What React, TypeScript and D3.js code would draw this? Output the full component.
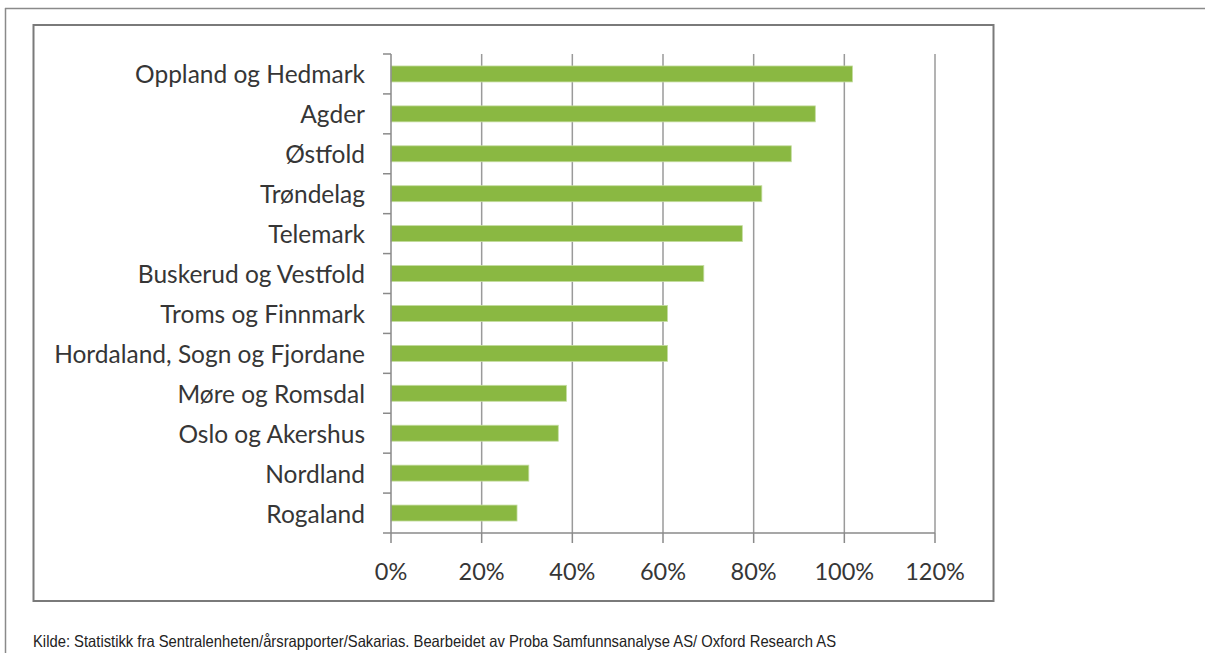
import React from "react";
import * as d3 from "d3";

const categories = [
  "Oppland og Hedmark",
  "Agder",
  "Østfold",
  "Trøndelag",
  "Telemark",
  "Buskerud og Vestfold",
  "Troms og Finnmark",
  "Hordaland, Sogn og Fjordane",
  "Møre og Romsdal",
  "Oslo og Akershus",
  "Nordland",
  "Rogaland",
];
const values = [101.8, 93.6, 88.3, 81.8, 77.5, 69.0, 61.0, 61.0, 38.7, 36.9, 30.4, 27.8];
const ticks = [0, 20, 40, 60, 80, 100, 120];
const source =
  "Kilde: Statistikk fra Sentralenheten/årsrapporter/Sakarias. Bearbeidet av Proba Samfunnsanalyse AS/ Oxford Research AS";

export default function App() {
  const W = 1205;
  const H = 653;
  const x = d3.scaleLinear().domain([0, 120]).range([391, 935]);
  const y = d3
    .scaleBand<string>()
    .domain(categories)
    .range([54, 533])
    .paddingInner(0.6)
    .paddingOuter(0.3);
  const step = y.step();
  const top = 54;
  const bottom = 533;
  const textColor = "#363636";
  const labelFont = "Lato, 'Open Sans', sans-serif";

  return (
    <svg
      width={W}
      height={H}
      style={{ position: "absolute", left: 0, top: 0, background: "#fff" }}
    >
      {/* outer frame lines */}
      <line x1={5} y1={8.5} x2={W} y2={8.5} stroke="#8a8a8a" strokeWidth={1.5} />
      <line x1={5.5} y1={8} x2={5.5} y2={H} stroke="#8a8a8a" strokeWidth={1.5} />
      {/* inner chart box */}
      <rect x={33.5} y={25} width={960} height={576} fill="#fff" stroke="#7a7a7a" strokeWidth={2} />

      {/* gridlines */}
      {ticks.slice(1).map((t) => (
        <line key={"g" + t} x1={x(t)} x2={x(t)} y1={top} y2={bottom} stroke="#9a9a9a" strokeWidth={1.5} />
      ))}

      {/* bars */}
      {categories.map((c, i) => (
        <rect
          key={c}
          x={x(0)}
          y={y(c)}
          width={x(values[i]) - x(0)}
          height={y.bandwidth()}
          fill="#8ab842"
          stroke="#c4dca0"
          strokeWidth={0.8}
        />
      ))}

      {/* y axis */}
      <line x1={x(0)} x2={x(0)} y1={top} y2={bottom} stroke="#8a8a8a" strokeWidth={1.5} />
      {d3.range(categories.length + 1).map((i) => (
        <line
          key={"yt" + i}
          x1={x(0) - 8}
          x2={x(0)}
          y1={top + i * step}
          y2={top + i * step}
          stroke="#8a8a8a"
          strokeWidth={1.5}
        />
      ))}
      {categories.map((c) => (
        <text
          key={"l" + c}
          x={365}
          y={(y(c) as number) + y.bandwidth() / 2}
          textAnchor="end"
          dominantBaseline="central"
          fontFamily={labelFont}
          fontSize={24.5}
          fill={textColor}
        >
          {c}
        </text>
      ))}

      {/* x axis */}
      <line x1={x(0)} x2={x(120)} y1={bottom} y2={bottom} stroke="#8a8a8a" strokeWidth={1.5} />
      {ticks.map((t) => (
        <line key={"xt" + t} x1={x(t)} x2={x(t)} y1={bottom} y2={bottom + 10} stroke="#8a8a8a" strokeWidth={1.5} />
      ))}
      {ticks.map((t) => (
        <text
          key={"xl" + t}
          x={x(t)}
          y={571}
          textAnchor="middle"
          dominantBaseline="central"
          fontFamily={labelFont}
          fontSize={23.5}
          fill={textColor}
        >
          {t + "%"}
        </text>
      ))}

      {/* source */}
      <text
        x={33}
        y={647}
        fontFamily="'Liberation Sans Narrow', 'Arial Narrow', 'Liberation Sans', Arial, sans-serif"
        fontSize={16.5}
        fill="#222"
        textLength={803}
        lengthAdjust="spacingAndGlyphs"
      >
        {source}
      </text>
    </svg>
  );
}
